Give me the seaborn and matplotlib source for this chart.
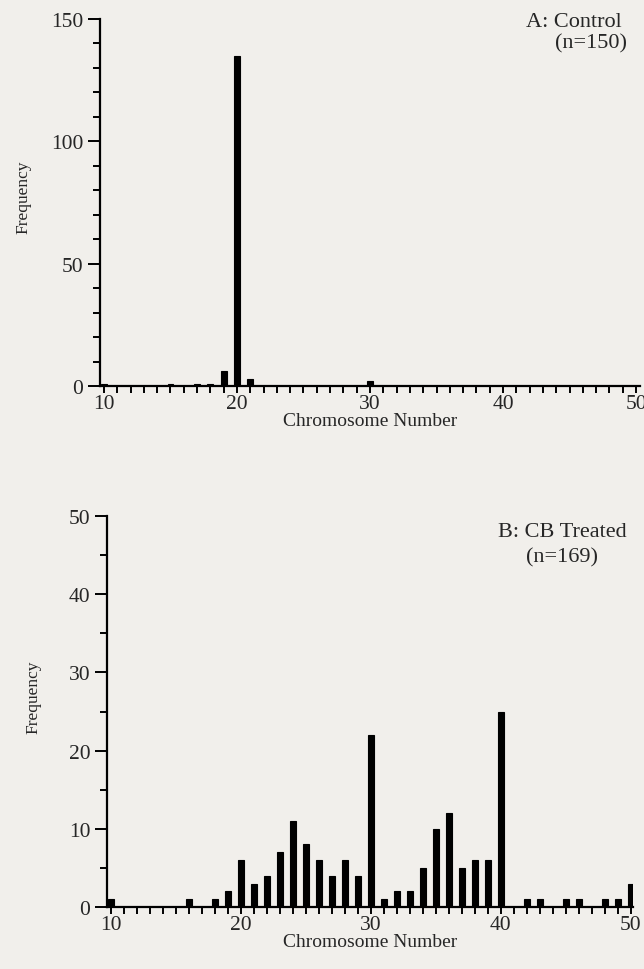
import matplotlib
matplotlib.use('Agg')
import matplotlib.pyplot as plt
from matplotlib.ticker import MultipleLocator
import pandas as pd
import seaborn as sns

# panel A: control
chrom_a = [10, 15, 17, 18, 19, 20, 21, 30]
freq_a = [1, 1, 1, 1, 6, 135, 3, 2]

# panel B: CB treated
chrom_b = [10, 16, 18, 19, 20, 21, 22, 23, 24, 25, 26, 27, 28, 29, 30,
           31, 32, 33, 34, 35, 36, 37, 38, 39, 40, 42, 43, 45, 46, 48, 49, 50]
freq_b = [1, 1, 1, 2, 6, 3, 4, 7, 11, 8, 6, 4, 6, 4, 22,
          1, 2, 2, 5, 10, 12, 5, 6, 6, 25, 1, 1, 1, 1, 1, 1, 3]

df_a = pd.DataFrame({'chrom': chrom_a, 'freq': freq_a})
df_b = pd.DataFrame({'chrom': chrom_b, 'freq': freq_b})

sns.set_style('ticks')
plt.rcParams['font.family'] = ['Liberation Serif', 'DejaVu Serif']
bg = '#f1efeb'

fig = plt.figure(figsize=(6.44, 9.70), dpi=100, facecolor=bg)
W, H = 644, 970
ax_a = fig.add_axes([100 / W, 1 - 387 / H, 540 / W, 367 / H])
ax_b = fig.add_axes([107 / W, 1 - 908 / H, 526 / W, 391 / H])


def style(ax, df, ymax, ymajor, yminor, xmax, ylab_x, ylab_y):
    sns.barplot(data=df, x='chrom', y='freq', native_scale=True, color='black',
                width=0.45, saturation=1, edgecolor='black', linewidth=0.8, ax=ax)
    ax.set_facecolor(bg)
    ax.set_xlim(9.7, xmax)
    ax.set_ylim(0, ymax)
    ax.xaxis.set_major_locator(MultipleLocator(10))
    ax.xaxis.set_minor_locator(MultipleLocator(1))
    ax.yaxis.set_major_locator(MultipleLocator(ymajor))
    ax.yaxis.set_minor_locator(MultipleLocator(yminor))
    for s in ['top', 'right']:
        ax.spines[s].set_visible(False)
    for s in ['left', 'bottom']:
        ax.spines[s].set_linewidth(1.6)
        ax.spines[s].set_color('black')
    ax.tick_params(which='both', direction='out', length=5, width=1.4,
                   color='black', labelsize=15.5, pad=1)
    ax.tick_params(axis='y', which='major', length=9, pad=3)
    ax.set_xlabel('Chromosome Number', fontsize=14, labelpad=-1)
    ax.set_ylabel('Frequency', fontsize=12.5)
    ax.yaxis.set_label_coords(ylab_x, ylab_y)


style(ax_a, df_a, 150, 50, 10, 50.3, -0.127, 0.518)
style(ax_b, df_b, 50, 10, 5, 50.16, -0.125, 0.54)

ax_a.text(0.967, 1.02, 'A: Control', transform=ax_a.transAxes, ha='right',
          va='top', fontsize=16)
ax_a.text(0.976, 0.96, '(n=150)', transform=ax_a.transAxes, ha='right',
          va='top', fontsize=16)
ax_b.text(0.865, 0.985, 'B: CB Treated', transform=ax_b.transAxes, ha='center',
          va='top', fontsize=16)
ax_b.text(0.865, 0.921, '(n=169)', transform=ax_b.transAxes, ha='center',
          va='top', fontsize=16)

fig.savefig('out.png', dpi=100, facecolor=bg)
